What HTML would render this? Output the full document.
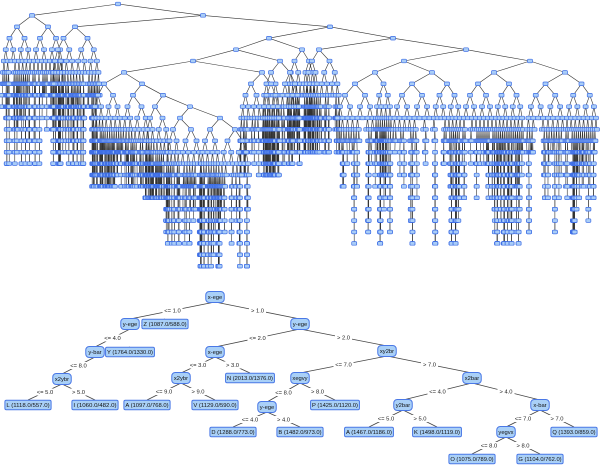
<!DOCTYPE html>
<html><head><meta charset="utf-8">
<style>
html,body{margin:0;padding:0;background:#fff;width:600px;height:468px;overflow:hidden}
svg{display:block}
text{font-family:"Liberation Sans",sans-serif}
</style></head><body>
<svg id="s" width="600" height="468" viewBox="0 0 600 468" xmlns="http://www.w3.org/2000/svg">
<g id="top"></g>
<g id="bot"></g>
</svg>
<script>
(function(){
var NS="http://www.w3.org/2000/svg";
var top=document.getElementById('top');
var linesG=document.createElementNS(NS,'g'),nodesG=document.createElementNS(NS,'g');
top.appendChild(linesG);top.appendChild(nodesG);
var seed=12345;function rnd(){seed=(seed*1103515245+12345)&0x7fffffff;return seed/0x7fffffff;}
function Y(l){return 4+11.4*l;}
function line(x1,y1,x2,y2){var e=document.createElementNS(NS,'line');e.setAttribute('x1',x1);e.setAttribute('y1',y1);e.setAttribute('x2',x2);e.setAttribute('y2',y2);e.setAttribute('stroke','#333');e.setAttribute('stroke-width','0.6');linesG.appendChild(e);}
function node(x,l){var e=document.createElementNS(NS,'rect');e.setAttribute('x',x-2.5);e.setAttribute('y',Y(l)-1.8);e.setAttribute('width',5);e.setAttribute('height',3.6);e.setAttribute('rx',1);e.setAttribute('fill','#a9cdf7');e.setAttribute('stroke','#3f6fe6');e.setAttribute('stroke-width','0.7');nodesG.appendChild(e);}
function grow(x,lo,hi,l,maxL,d){
  node(x,l);
  if(l>=maxL)return;
  var p=d<4?1:(d<6?0.85:0.75-0.03*(d-6));
  if(rnd()>p)return;
  var m1=(lo+x)/2,m2=(x+hi)/2;
  var kids=[[m1,lo,x],[m2,x,hi]];
  for(var i=0;i<2;i++){
    if(d>=6 && rnd()<0.3) continue;
    var k=kids[i];line(x,Y(l),k[0],Y(l+1));grow(k[0],k[1],k[2],l+1,maxL,d+1);
  }
}
function sk(x1,l1,x2,l2){line(x1,Y(l1),x2,Y(l2));}
var S=[[118,0,32,1],[118,0,203,1],[203,1,75,2],[203,1,330,2],[330,2,269,3],[330,2,393,3],
[269,3,236,4],[269,3,302,4],[236,4,193,5],[236,4,280,5],[193,5,124,6],[193,5,262,6],
[124,6,104,7],[124,6,142,7],[142,7,133,8],[142,7,163,8],[163,8,155,9],[163,8,190,9],
[190,9,180,10],[190,9,220,10],[393,3,319,4],[393,3,466,4],[466,4,404,5],[466,4,530,5],
[404,5,375,6],[404,5,432,6],[530,5,494,6],[530,5,565,6]];
S.forEach(function(s){sk(s[0],s[1],s[2],s[3]);});
[[118,0],[203,1],[330,2],[269,3],[393,3],[236,4],[193,5],[124,6],[142,7],[163,8],[190,9],[466,4],[404,5],[530,5]].forEach(function(n){node(n[0],n[1]);});
grow(32,2,64,1,14,0);
grow(75,52,100,2,14,0);
grow(302,287,316,4,13,0);
grow(319,305,340,4,13,0);
grow(280,262,300,5,14,0);
grow(262,240,280,6,15,0);
grow(104,92,122,7,16,0);
grow(133,122,150,8,16,0);
grow(155,145,170,9,17,0);
grow(180,166,202,10,21,0);
grow(220,200,250,10,23,0);
grow(375,335,392,6,21,0);
grow(432,392,462,6,21,0);
grow(494,462,524,6,21,0);
grow(565,526,598,6,20,0);

var bot=document.getElementById('bot');
var N={
 r:[215,297,'x-ege'],a:[130,324,'y-ege'],z:[165,324,'Z (1087.0/588.0)',1],
 b:[95,352,'y-bar'],yl:[130,352,'Y (1764.0/1330.0)',1],c:[62,379,'x2ybr'],
 L:[28,405,'L (1118.0/557.0)',1],I:[95,405,'I (1060.0/482.0)',1],
 m:[215,352,'x-ege'],Nn:[250,378,'N (2013.0/1376.0)',1],x2:[181,378,'x2ybr'],
 A:[147,405,'A (1097.0/768.0)',1],V:[215,405,'V (1129.0/590.0)',1],
 ye:[300,324,'y-ege'],xv:[300,378,'xegvy'],y2:[267,407,'y-ege'],
 D:[233,432,'D (1288.0/773.0)',1],B:[300,432,'B (1482.0/973.0)',1],
 P:[335,405,'P (1425.0/1120.0)',1],xy:[387,351,'xy2br'],x2b:[472,378,'x2bar'],
 y2b:[403,405,'y2bar'],A2:[369,432,'A (1467.0/1186.0)',1],K:[437,432,'K (1498.0/1119.0)',1],
 xb:[540,405,'x-bar'],Q:[574,432,'Q (1393.0/859.0)',1],yg:[506,432,'yegvx'],
 O:[472,459,'O (1075.0/789.0)',1],G:[540,459,'G (1104.0/762.0)',1]
};
var E=[['r','a','<= 1.0'],['r','ye','> 1.0'],['a','b','<= 4.0'],['a','z','> 4.0'],
['b','c','<= 8.0'],['b','yl','> 8.0'],['c','L','<= 5.0'],['c','I','> 5.0'],
['ye','m','<= 2.0'],['ye','xy','> 2.0'],['m','x2','<= 3.0'],['m','Nn','> 3.0'],
['x2','A','<= 9.0'],['x2','V','> 9.0'],['xy','xv','<= 7.0'],['xy','x2b','> 7.0'],
['xv','y2','<= 8.0'],['xv','P','> 8.0'],['y2','D','<= 4.0'],['y2','B','> 4.0'],
['x2b','y2b','<= 4.0'],['x2b','xb','> 4.0'],['y2b','A2','<= 5.0'],['y2b','K','> 5.0'],
['xb','yg','<= 7.0'],['xb','Q','> 7.0'],['yg','O','<= 8.0'],['yg','G','> 8.0']];
var h='';
E.forEach(function(e){var p=N[e[0]],c=N[e[1]];
 h+='<line x1="'+p[0]+'" y1="'+(p[1]+5)+'" x2="'+c[0]+'" y2="'+(c[1]-5)+'" stroke="#444" stroke-width="0.8"/>';});
E.forEach(function(e){var p=N[e[0]],c=N[e[1]];var mx=(p[0]+c[0])/2,my=(p[1]+c[1])/2;var w=e[2].length*3+2;
 h+='<rect x="'+(mx-w/2)+'" y="'+(my-3.5)+'" width="'+w+'" height="7" fill="#fff"/>';
 h+='<text x="'+mx+'" y="'+(my+2)+'" font-size="5.8" text-anchor="middle" fill="#222">'+e[2]+'</text>';});
for(var k in N){var n=N[k];var w=n[3]?n[2].length*2.7+3:n[2].length*2.9+4;var hh=n[3]?9.5:11;
 h+='<rect x="'+(n[0]-w/2)+'" y="'+(n[1]-hh/2)+'" width="'+w+'" height="'+hh+'" rx="'+(n[3]?1.5:3.5)+'" fill="#a9d0f7" stroke="#4a78e6" stroke-width="1"/>';
 h+='<text x="'+n[0]+'" y="'+(n[1]+2)+'" font-size="'+(n[3]?5.4:5.8)+'" text-anchor="middle" fill="#111"'+(n[3]?' textLength="'+(w-3)+'" lengthAdjust="spacingAndGlyphs"':'')+'>'+n[2]+'</text>';}
bot.innerHTML=h;
})();
</script>
</body></html>
